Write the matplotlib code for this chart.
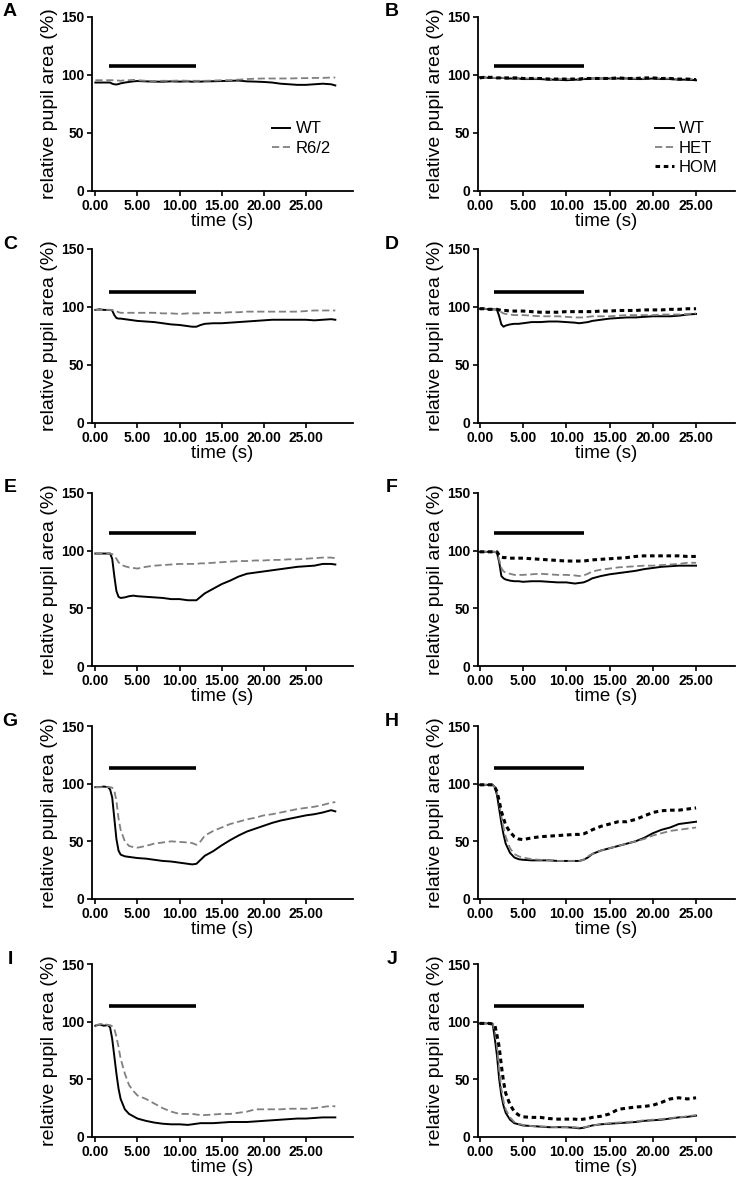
import matplotlib
matplotlib.use("Agg")
import matplotlib.pyplot as plt

plt.rcParams['font.family'] = ['Liberation Sans', 'DejaVu Sans']

# time points (s), left column (WT vs R6/2) and right column (WT / HET / HOM)
t_left = [0, 0.5, 1.0, 1.5, 1.75, 2.0, 2.25, 2.5, 2.75, 3.0, 3.5, 4.0, 4.5, 5, 6, 7, 8, 9, 10, 11,
          11.5, 12, 12.5, 13, 14, 15, 16, 17, 18, 19, 20, 21, 22, 23, 24, 25, 26, 27, 28, 28.5]
t_right = [0, 0.5, 1.0, 1.5, 1.75, 2.0, 2.25, 2.5, 2.75, 3.0, 3.5, 4.0, 4.5, 5, 6, 7, 8, 9, 10, 11,
           11.5, 12, 12.5, 13, 14, 15, 16, 17, 18, 19, 20, 21, 22, 23, 24, 25]

# panel A
a_wt = [93.5, 93.5, 93.5, 93.5, 93.5, 92.5, 92, 91.8, 92.2, 92.8, 93.5, 94, 94.5, 94.8, 94.5, 94.3, 94.2, 94.5, 94.3, 94.5,
        94.2, 94.5, 94.3, 94.5, 94.6, 94.8, 95, 95.2, 94.5, 94.3, 94, 93.5, 92.5, 92, 91.5, 91.5, 92, 92.5, 92, 91]
a_r62 = [95.5, 95.5, 95.5, 95.5, 95.5, 95.5, 95.5, 95.3, 95.2, 95, 95.5, 95.5, 95.8, 95.5, 95, 94.8, 95, 95, 95.2, 95,
         95, 95, 95, 95, 95.2, 95.5, 95.5, 96, 96.5, 96.8, 97, 97, 97, 97, 97.2, 97.3, 97.5, 97.5, 97.8, 97.8]
# panel C
c_wt = [97.5, 98, 97.5, 97.5, 97.5, 97, 93, 90.5, 90, 90, 89.5, 89, 88.5, 88, 87.5, 87, 86, 85, 84.5, 83.5,
        83, 83, 84.5, 85.5, 86, 86, 86.5, 87, 87.5, 88, 88.5, 89, 89, 89, 89, 89, 88.5, 89, 89.5, 89]
c_r62 = [97.5, 97.5, 97.5, 97.5, 97.5, 97.5, 97, 96.5, 95.5, 95, 95, 95, 95, 95, 95, 95, 94.5, 94.5, 94, 94.5,
         94.5, 94.5, 94.5, 95, 95, 95, 95.5, 95.5, 96, 96, 96, 96, 96, 96, 96, 96.5, 97, 97, 97, 97]
# panel E
e_wt = [97.5, 97.5, 97.5, 97.5, 97.5, 93, 78, 65, 60, 59, 59.5, 60.5, 61, 60.5, 60, 59.5, 59, 58, 58, 57,
        57, 57, 60, 63, 67, 71, 74, 77.5, 80, 81, 82, 83, 84, 85, 86, 86.5, 87, 88.5, 88.5, 88]
e_r62 = [97.5, 97.5, 97.5, 97.5, 97.5, 97, 95.5, 93, 90, 88, 86.5, 85.5, 85, 84.5, 86, 87, 87.5, 88, 88.5, 88.5,
         88.5, 88.5, 89, 89, 89.5, 90, 90.5, 91, 91, 91.5, 91.5, 92, 92, 92.5, 92.5, 93, 93.5, 94, 94, 93.5]
# panel G
g_wt = [97, 97, 97.5, 97, 95, 88, 70, 52, 42, 38.5, 37, 36.5, 36, 35.5, 35, 34, 33, 32.5, 31.5, 30.5,
        30, 30.5, 34, 37.5, 41.5, 46.5, 51, 55, 58.5, 61, 63.5, 66, 68, 69.5, 71, 72.5, 73.5, 75, 77, 76]
g_r62 = [97, 97, 97, 97, 97, 96.5, 94, 85, 70, 60, 50, 46, 45, 44.5, 46, 48, 49, 50, 49.5, 49,
         48.5, 47, 50, 55, 59, 62, 65, 67, 69, 70.5, 72.5, 73.5, 75, 76.5, 78, 79, 80, 81.5, 83.5, 84]
# panel I
i_wt = [96.5, 97.5, 96.5, 97, 95, 85, 70, 55, 42, 33, 24, 20, 18, 16, 14, 12.5, 11.5, 11, 11, 10.5,
        11, 11.5, 12, 12, 12, 12.5, 13, 13, 13, 13.5, 14, 14.5, 15, 15.5, 16, 16, 16.5, 17, 17, 17]
i_r62 = [97, 97.5, 98.5, 97, 97, 96, 94, 87, 78, 68, 55, 45, 40, 36, 33, 29, 25, 22, 20, 20,
         20, 19.5, 19, 19, 19.5, 20, 20, 21, 22, 24, 24, 24, 24, 24.5, 24.5, 24.5, 25, 26, 27, 26.5]

# panel B
b_wt = [98, 98, 97.5, 97.5, 97.5, 97.5, 97.5, 97.5, 97.5, 97, 97, 97, 97, 96.5, 96.5, 96.5, 96, 96, 95.5, 96,
        96, 96.5, 96.5, 97, 97, 97, 97, 97, 96.5, 96.5, 97, 96.5, 96.5, 96, 96, 95.5]
b_het = [97.5, 97.5, 97.5, 97.5, 97.5, 97.5, 97.5, 97.5, 97.5, 97.5, 97, 97, 97, 97, 97, 97, 96.5, 96.5, 96.5, 96.5,
         96.5, 97, 97, 97, 97, 97, 97, 97.5, 97, 97, 97.5, 97, 97, 96.5, 96.5, 96.5]
b_hom = [97.5, 98, 98, 98, 98, 97.5, 97.5, 97.5, 97.5, 97.5, 97.5, 97.5, 97.5, 97, 97, 97, 96.5, 96.5, 96.5, 96.5,
         96.5, 97, 97, 97, 97, 97, 97.5, 97, 97, 97.5, 97.5, 97, 97, 96.5, 96.5, 96]
# panel D
d_wt = [98.5, 98.5, 98, 98, 98, 97.5, 92, 85, 83, 84, 85, 85.5, 85.5, 86, 87, 87, 87.5, 87.5, 87, 86.5,
        86, 86.5, 87, 88, 89, 90, 90.5, 91, 91, 91.5, 92, 92, 92, 92.5, 93.5, 94]
d_het = [98.5, 98.5, 98, 98, 98, 98, 97, 95.5, 94.5, 94, 93.5, 93, 93, 93, 92.5, 92, 92, 92, 91.5, 91,
         91, 91, 91.5, 92, 92, 92, 92.5, 93, 93, 93, 93, 93.5, 93.5, 93.5, 94, 94.5]
d_hom = [98.5, 98.5, 98, 98, 98, 98, 97.5, 97, 97, 97, 96.5, 96.5, 96.5, 96.5, 96, 95.5, 95.5, 95.5, 96, 96,
         96, 96, 96, 96, 96.5, 96.5, 97, 97, 97, 97.5, 97.5, 97.5, 98, 98, 98.5, 98.5]
# panel F
f_wt = [99, 99, 99, 99, 99, 98, 90, 78, 76, 75, 74, 73.5, 73.5, 73, 73.5, 73.5, 73, 72.5, 72.5, 71.5,
        72, 72.5, 74, 76, 78, 79.5, 80.5, 81.5, 82.5, 84, 85, 86, 86.5, 87, 87, 87]
f_het = [99, 99, 99, 99, 99, 98.5, 92, 85, 82, 81, 80, 79, 79, 79, 79.5, 80, 79.5, 79, 79, 78.5,
         78, 78.5, 80, 82, 83.5, 84.5, 85.5, 86, 86.5, 87, 87, 87.5, 88, 88.5, 89.5, 89.5]
f_hom = [99, 99, 99, 99, 99, 99, 96, 94.5, 94, 94, 93.5, 93.5, 93.5, 93.5, 93, 92.5, 92, 91.5, 91, 91,
         91, 91, 91.5, 92, 92.5, 93, 93.5, 94, 95, 95.5, 95.5, 95.5, 95.5, 95.5, 95, 95]
# panel H
h_wt = [99, 99, 99, 99, 97, 90, 78, 66, 56, 48, 40, 36, 34.5, 34, 33.5, 33.5, 33.5, 33, 33, 33,
        33, 34, 36, 39, 42, 44, 46, 48, 50, 53, 57, 60, 62, 65, 66, 67]
h_het = [99, 99, 99, 99, 97, 92, 82, 72, 62, 54, 44, 39, 37, 36, 34.5, 34, 33.5, 33, 33, 33,
         33, 34, 37, 39, 42, 44, 46, 48, 50, 52, 55, 57, 59, 60, 61, 62]
h_hom = [99, 99, 99, 99, 97, 93, 85, 76, 70, 64, 58, 54, 52, 51.5, 53, 54, 54.5, 55, 55.5, 56,
         56, 56.5, 58, 60, 63, 65, 67, 67, 69, 72, 75, 76.5, 77, 77, 78, 79]
# panel J
j_wt = [98.5, 98.5, 98.5, 98, 85, 70, 50, 36, 27, 21, 15, 12, 11, 10, 9.5, 9, 8.5, 8.5, 8.5, 8,
        7.5, 8, 9, 10, 11, 11.5, 12, 12.5, 13, 14, 14.5, 15, 16, 17, 17.5, 18.5]
j_het = [98.5, 98.5, 98.5, 98, 92, 78, 58, 42, 31, 24, 17, 13, 11.5, 10.5, 9.5, 9, 9, 8.5, 8.5, 8.5,
         8, 8.5, 9, 10, 11, 12, 12.5, 13, 13.5, 14.5, 15, 15.5, 16.5, 17, 18, 19]
j_hom = [98.5, 98.5, 98.5, 98, 97, 88, 78, 62, 48, 38, 28, 22, 19, 17.5, 17, 17, 16, 15.5, 15.5, 15.5,
         15, 15.5, 16, 17, 18, 20, 24, 25, 26, 26.5, 27.5, 30, 33, 34, 33, 34]

left_panels = [("A", a_wt, a_r62, 108), ("C", c_wt, c_r62, 113), ("E", e_wt, e_r62, 115),
               ("G", g_wt, g_r62, 114), ("I", i_wt, i_r62, 114)]
right_panels = [("B", b_wt, b_het, b_hom, 108), ("D", d_wt, d_het, d_hom, 113), ("F", f_wt, f_het, f_hom, 115),
                ("H", h_wt, h_het, h_hom, 114), ("J", j_wt, j_het, j_hom, 114)]

stim_on, stim_off = 1.6, 12.0
x_ticks = [0, 5, 10, 15, 20, 25]
y_ticks = [0, 50, 100, 150]

W, H = 746, 1185
rows_px = [(17, 191), (249, 423), (493, 666), (726, 899), (964, 1137)]
gray = "#808080"

fig = plt.figure(figsize=(W / 100, H / 100), dpi=100)


def setup_axes(left_px, right_px, top_px, bot_px, xmin, xmax, letter, letter_x):
    ax = fig.add_axes([left_px / W, 1 - bot_px / H, (right_px - left_px) / W, (bot_px - top_px) / H])
    ax.set_xlim(xmin, xmax)
    ax.set_ylim(0, 150)
    ax.spines['top'].set_visible(False)
    ax.spines['right'].set_visible(False)
    ax.spines['left'].set_linewidth(1.3)
    ax.spines['bottom'].set_linewidth(1.3)
    ax.set_xticks(x_ticks)
    ax.set_xticklabels(["%.2f" % v for v in x_ticks], fontweight='bold', fontsize=10)
    ax.set_yticks(y_ticks)
    ax.set_yticklabels([str(v) for v in y_ticks], fontweight='bold', fontsize=10)
    ax.tick_params(direction='out', length=3.5, width=1.2, pad=2)
    ax.set_xlabel("time (s)", fontsize=13.5, labelpad=0)
    ax.set_ylabel("relative pupil area (%)", fontsize=14, labelpad=2)
    fig.text(letter_x / W, 1 - (top_px - 5) / H, letter, fontsize=14, fontweight='bold',
             ha='center', va='center')
    return ax


for (letter, wt, r62, bar_y), (top, bot) in zip(left_panels, rows_px):
    ax = setup_axes(92, 353, top, bot, -0.4, 30.6, letter, 10)
    ax.plot(t_left, wt, color='black', lw=1.4, label='WT')
    ax.plot(t_left, r62, color=gray, lw=1.3, ls=(0, (4, 2)), label='R6/2')
    ax.plot([stim_on, stim_off], [bar_y, bar_y], color='black', lw=2.6, solid_capstyle='butt')
    if letter == "A":
        ax.legend(loc='upper left', bbox_to_anchor=(0.69, 0.40), frameon=False, fontsize=12,
                  handlelength=1.1, handletextpad=0.3, labelspacing=0.25, borderpad=0, borderaxespad=0)

for (letter, wt, het, hom, bar_y), (top, bot) in zip(right_panels, rows_px):
    ax = setup_axes(478, 735, top, bot, -0.2, 29.5, letter, 392)
    ax.plot(t_right, wt, color='black', lw=1.4, label='WT')
    ax.plot(t_right, het, color=gray, lw=1.3, ls=(0, (4, 2)), label='HET')
    ax.plot(t_right, hom, color='black', lw=2.2, ls=(0, (1.5, 1.2)), label='HOM')
    ax.plot([stim_on, stim_off], [bar_y, bar_y], color='black', lw=2.6, solid_capstyle='butt')
    if letter == "B":
        ax.legend(loc='upper left', bbox_to_anchor=(0.69, 0.40), frameon=False, fontsize=12,
                  handlelength=1.1, handletextpad=0.3, labelspacing=0.25, borderpad=0, borderaxespad=0)

fig.savefig("out.png", dpi=100)
